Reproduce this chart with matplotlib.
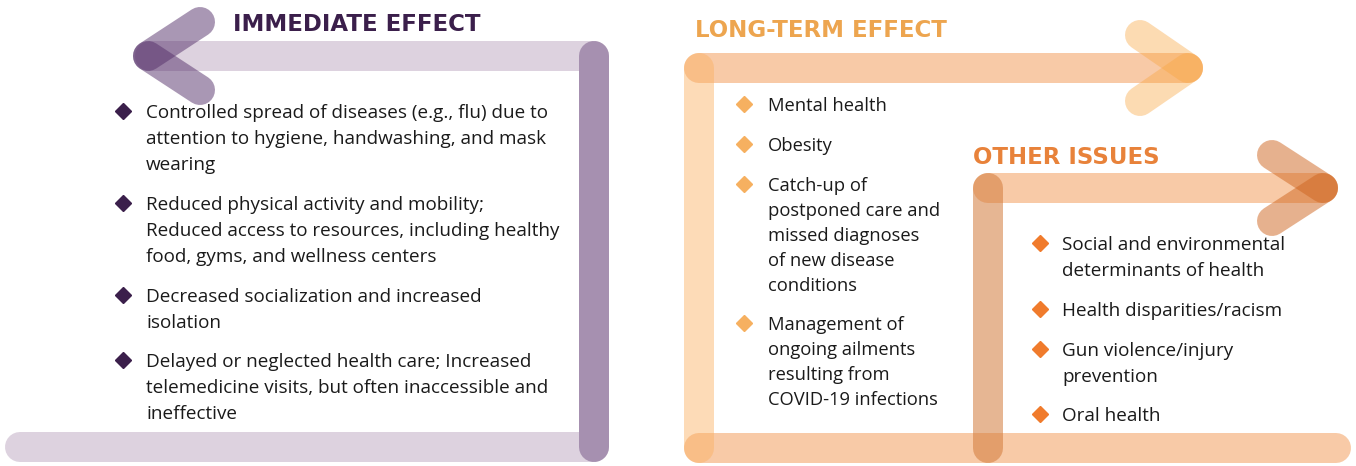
import matplotlib
matplotlib.use("Agg")
import matplotlib.pyplot as plt

W, H = 1356, 466

# ---- content -------------------------------------------------------------
titles = ["IMMEDIATE EFFECT", "LONG-TERM EFFECT", "OTHER ISSUES"]

immediate_items = [
    ["Controlled spread of diseases (e.g., flu) due to",
     "attention to hygiene, handwashing, and mask",
     "wearing"],
    ["Reduced physical activity and mobility;",
     "Reduced access to resources, including healthy",
     "food, gyms, and wellness centers"],
    ["Decreased socialization and increased",
     "isolation"],
    ["Delayed or neglected health care; Increased",
     "telemedicine visits, but often inaccessible and",
     "ineffective"],
]
longterm_items = [
    ["Mental health"],
    ["Obesity"],
    ["Catch-up of", "postponed care and", "missed diagnoses",
     "of new disease", "conditions"],
    ["Management of", "ongoing ailments", "resulting from",
     "COVID-19 infections"],
]
other_items = [
    ["Social and environmental", "determinants of health"],
    ["Health disparities/racism"],
    ["Gun violence/injury", "prevention"],
    ["Oral health"],
]

# ---- styling ---------------------------------------------------------------
FONT = "Open Sans"
TFONT = "DejaVu Sans"
lw = 30 * 72 / 100  # 30 px wide ribbons

fig = plt.figure(figsize=(W / 100, H / 100), dpi=100)
ax = fig.add_axes([0, 0, 1, 1])
ax.set_xlim(0, W)
ax.set_ylim(H, 0)
ax.axis("off")


def ribbon(xs, ys, color, alpha=1.0, z=1):
    ax.plot(xs, ys, color=color, alpha=alpha, lw=lw,
            solid_capstyle="round", zorder=z)


# ---- purple (immediate effect) --------------------------------------------
ribbon([150, 594], [56, 56], "#ddd2df", z=1)           # top
ribbon([20, 594], [447, 447], "#ddd2df", z=1)          # bottom
ribbon([594, 594], [56, 447], "#a690b0", z=2)          # right vertical
for ye in (22, 90):                                      # arrow head
    ribbon([148, 200], [56, ye], "#55306a", alpha=0.5, z=3)

# ---- orange (long-term effect) --------------------------------------------
ribbon([699, 1188], [68, 68], "#f08a3c", alpha=0.45, z=1)
ribbon([699, 1336], [448, 448], "#f08a3c", alpha=0.45, z=1)
ribbon([699, 699], [68, 448], "#fbb060", alpha=0.45, z=2)
for ye in (35, 101):
    ribbon([1188, 1140], [68, ye], "#f9a540", alpha=0.4, z=3)

# ---- dark orange (other issues) -------------------------------------------
ribbon([988, 1323], [188, 188], "#f08a3c", alpha=0.45, z=1)
ribbon([988, 988], [188, 448], "#d27a3a", alpha=0.55, z=2)
for ye in (155, 221):
    ribbon([1323, 1272], [188, ye], "#cf651f", alpha=0.5, z=3)

# ---- titles ---------------------------------------------------------------
ax.text(233, 31, titles[0], fontsize=16.5, fontweight="bold", color="#3b1f4b",
        family=TFONT, va="baseline", ha="left", zorder=5)
ax.text(695, 37, titles[1], fontsize=16.5, fontweight="bold", color="#eda54f",
        family=TFONT, va="baseline", ha="left", zorder=5)
ax.text(973, 164, titles[2], fontsize=16.5, fontweight="bold", color="#e8823a",
        family=TFONT, va="baseline", ha="left", zorder=5)


def bullets(items, x_b, x_t, first_baselines, spacing, bcolor, fs):
    for lines, yb in zip(items, first_baselines):
        ax.plot([x_b], [yb - 7], marker="D", ms=8, color=bcolor,
                mec=bcolor, zorder=6)
        for i, line in enumerate(lines):
            ax.text(x_t, yb + i * spacing, line, fontsize=fs, color="#1a1a1a",
                    family=FONT, va="baseline", ha="left", zorder=6)


bullets(immediate_items, 123, 146, [118, 210, 302, 367], 26, "#3b1f4b", 13.6)
bullets(longterm_items, 744, 768, [111, 151, 191, 330], 25, "#f6b060", 13.2)
bullets(other_items, 1040, 1062, [250, 316, 356, 421], 26, "#f07b2c", 13.6)

fig.savefig("out.png", dpi=100)
